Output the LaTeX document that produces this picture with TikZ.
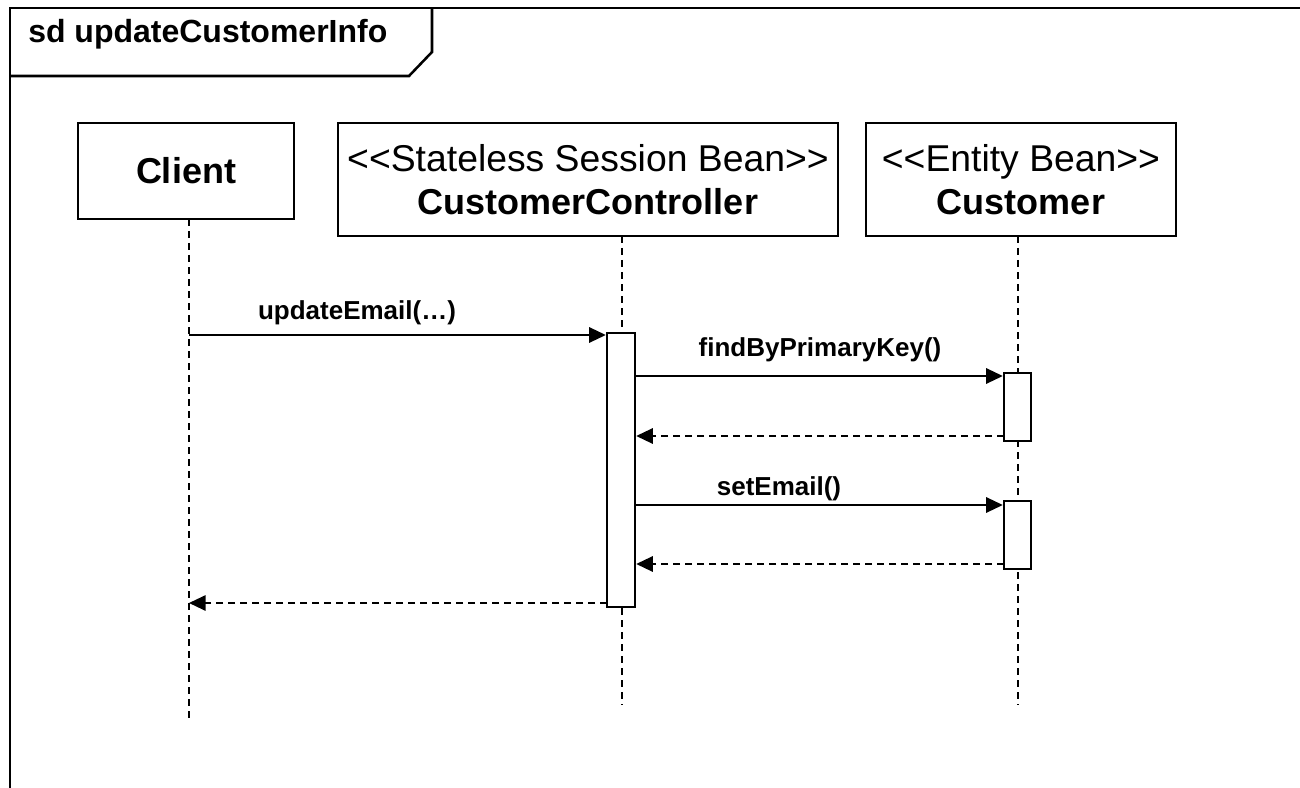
\documentclass[tikz,border=0pt]{standalone}
\usepackage{fontspec}
\setmainfont{Liberation Sans}[Ligatures=TeXOff]
\usetikzlibrary{arrows.meta}
\newcommand{\stereo}[1]{{\fontsize{28}{32.25}\selectfont #1}}
\begin{document}
\begin{tikzpicture}[x=0.75pt,y=-0.75pt,line join=miter]
\tikzset{
  framepen/.style={line width=1.9pt},
  objbox/.style={draw,line width=1.8pt,fill=white,align=center,inner sep=0pt,
    font=\fontsize{27}{32.25}\selectfont},
  lifeline/.style={line width=1.5pt,dash pattern=on 5.5pt off 3.5pt},
  actbar/.style={draw,fill=white,line width=1.8pt,inner sep=0pt},
  call/.style={line width=1.5pt,-{Triangle[length=12.5pt,width=11.5pt]}},
  reply/.style={line width=1.5pt,dash pattern=on 5.5pt off 3.5pt,
    -{Triangle[length=12.5pt,width=11.5pt]}},
  msglabel/.style={inner sep=0pt,anchor=base,font=\bfseries\fontsize{19.5}{22}\selectfont},
}
\useasboundingbox (0,0) rectangle (1300,788);

% interaction frame with its name tab
\draw[framepen] (1300,8) -- (10,8) -- (10,788);
\draw[framepen] (432,8) -- (432,52) -- (409,76) -- (10,76);
\node[inner sep=0pt,anchor=base west,font=\bfseries\fontsize{24}{28}\selectfont]
  (title) at (28,43) {sd updateCustomerInfo};

% participants
\node[objbox,minimum width=162pt,minimum height=72pt] (client) at (186,171)
  {\textbf{Client}};
\node[objbox,minimum width=375pt,minimum height=84.75pt] (ctrl) at (588,179.5)
  {\stereo{<<Stateless Session Bean>>}\\\textbf{CustomerController}};
\node[objbox,minimum width=232.5pt,minimum height=84.75pt] (cust) at (1021,179.5)
  {\stereo{<<Entity Bean>>}\\\textbf{Customer}};

% lifelines
\coordinate (clientTop) at (189,219);
\coordinate (clientEnd) at (189,718);
\coordinate (ctrlTop) at (622,236);
\coordinate (ctrlEnd) at (622,705);
\coordinate (custTop) at (1018,236);
\coordinate (custEnd) at (1018,705);
\draw[lifeline] (clientTop) -- (clientEnd);
\draw[lifeline] (ctrlTop) -- (ctrlEnd);
\draw[lifeline] (custTop) -- (custEnd);

% activation bars
\node[actbar,minimum width=21pt,minimum height=205.5pt] (ctrlbar) at (621,470) {};
\node[actbar,minimum width=20.25pt,minimum height=51pt] (custbarA) at (1017.5,407) {};
\node[actbar,minimum width=20.25pt,minimum height=51pt] (custbarB) at (1017.5,535) {};

% message rows
\coordinate (m1) at (189,335);
\coordinate (m2) at (636,376);
\coordinate (r2) at (1004,436);
\coordinate (m3) at (636,505);
\coordinate (r3) at (1004,564);
\coordinate (r1) at (607,603);

% messages
\draw[call]  (m1) -- (m1 -| ctrlbar.west);
\draw[call]  (m2) -- (m2 -| custbarA.west);
\draw[reply] (r2) -- (r2 -| ctrlbar.east);
\draw[call]  (m3) -- (m3 -| custbarB.west);
\draw[reply] (r3) -- (r3 -| ctrlbar.east);
\draw[reply] (r1) -- (r1 -| clientEnd);

% message names
\node[msglabel] (l1) at (357,319) {updateEmail(…)};
\node[msglabel] (l2) at (820,356) {findByPrimaryKey()};
\node[msglabel] (l3) at (779,495) {setEmail()};
\end{tikzpicture}
\end{document}
